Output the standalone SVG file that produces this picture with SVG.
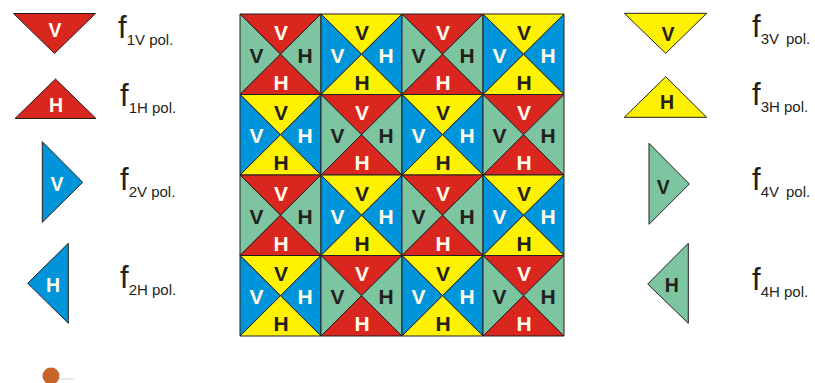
<svg xmlns="http://www.w3.org/2000/svg" width="815" height="383" viewBox="0 0 815 383">
<style>
.r{fill:#D9261E}.y{fill:#FFF200}.b{fill:#0095DA}.g{fill:#7DC4A0}
polygon{stroke:#231F20;stroke-width:1;stroke-linejoin:miter}
.t{font-family:"Liberation Sans",Arial,sans-serif;font-weight:bold;font-size:21px;text-anchor:middle}
.lt{font-family:"Liberation Sans",Arial,sans-serif;font-weight:bold;font-size:19.5px;text-anchor:middle}
.w{fill:#FFFBEA}.k{fill:#231F20}
.lab{font-family:"Liberation Sans",Arial,sans-serif;font-size:31px;fill:#231F20}
.sub{font-size:15px}
</style>
<rect width="815" height="383" fill="#FFFFFF"/>
<g id="grid">
<g id="cell-r0c0" transform="translate(240,14)"><polygon class="r" points="0,0 81,0 40.5,40.25"/><polygon class="g" points="0,0 0,80.5 40.5,40.25"/><polygon class="g" points="81,0 81,80.5 40.5,40.25"/><polygon class="r" points="0,80.5 81,80.5 40.5,40.25"/><text class="t w" x="41" y="25.5">V</text><text class="t k" x="16.5" y="48.5">V</text><text class="t k" x="65" y="48.5">H</text><text class="t w" x="41" y="75.5">H</text></g>
<g id="cell-r0c1" transform="translate(321,14)"><polygon class="y" points="0,0 81,0 40.5,40.25"/><polygon class="b" points="0,0 0,80.5 40.5,40.25"/><polygon class="b" points="81,0 81,80.5 40.5,40.25"/><polygon class="y" points="0,80.5 81,80.5 40.5,40.25"/><text class="t k" x="41" y="25.5">V</text><text class="t w" x="16.5" y="48.5">V</text><text class="t w" x="65" y="48.5">H</text><text class="t k" x="41" y="75.5">H</text></g>
<g id="cell-r0c2" transform="translate(402,14)"><polygon class="r" points="0,0 81,0 40.5,40.25"/><polygon class="g" points="0,0 0,80.5 40.5,40.25"/><polygon class="g" points="81,0 81,80.5 40.5,40.25"/><polygon class="r" points="0,80.5 81,80.5 40.5,40.25"/><text class="t w" x="41" y="25.5">V</text><text class="t k" x="16.5" y="48.5">V</text><text class="t k" x="65" y="48.5">H</text><text class="t w" x="41" y="75.5">H</text></g>
<g id="cell-r0c3" transform="translate(483,14)"><polygon class="y" points="0,0 81,0 40.5,40.25"/><polygon class="b" points="0,0 0,80.5 40.5,40.25"/><polygon class="b" points="81,0 81,80.5 40.5,40.25"/><polygon class="y" points="0,80.5 81,80.5 40.5,40.25"/><text class="t k" x="41" y="25.5">V</text><text class="t w" x="16.5" y="48.5">V</text><text class="t w" x="65" y="48.5">H</text><text class="t k" x="41" y="75.5">H</text></g>
<g id="cell-r1c0" transform="translate(240,94.5)"><polygon class="y" points="0,0 81,0 40.5,40.25"/><polygon class="b" points="0,0 0,80.5 40.5,40.25"/><polygon class="b" points="81,0 81,80.5 40.5,40.25"/><polygon class="y" points="0,80.5 81,80.5 40.5,40.25"/><text class="t k" x="41" y="25.5">V</text><text class="t w" x="16.5" y="48.5">V</text><text class="t w" x="65" y="48.5">H</text><text class="t k" x="41" y="75.5">H</text></g>
<g id="cell-r1c1" transform="translate(321,94.5)"><polygon class="r" points="0,0 81,0 40.5,40.25"/><polygon class="g" points="0,0 0,80.5 40.5,40.25"/><polygon class="g" points="81,0 81,80.5 40.5,40.25"/><polygon class="r" points="0,80.5 81,80.5 40.5,40.25"/><text class="t w" x="41" y="25.5">V</text><text class="t k" x="16.5" y="48.5">V</text><text class="t k" x="65" y="48.5">H</text><text class="t w" x="41" y="75.5">H</text></g>
<g id="cell-r1c2" transform="translate(402,94.5)"><polygon class="y" points="0,0 81,0 40.5,40.25"/><polygon class="b" points="0,0 0,80.5 40.5,40.25"/><polygon class="b" points="81,0 81,80.5 40.5,40.25"/><polygon class="y" points="0,80.5 81,80.5 40.5,40.25"/><text class="t k" x="41" y="25.5">V</text><text class="t w" x="16.5" y="48.5">V</text><text class="t w" x="65" y="48.5">H</text><text class="t k" x="41" y="75.5">H</text></g>
<g id="cell-r1c3" transform="translate(483,94.5)"><polygon class="r" points="0,0 81,0 40.5,40.25"/><polygon class="g" points="0,0 0,80.5 40.5,40.25"/><polygon class="g" points="81,0 81,80.5 40.5,40.25"/><polygon class="r" points="0,80.5 81,80.5 40.5,40.25"/><text class="t w" x="41" y="25.5">V</text><text class="t k" x="16.5" y="48.5">V</text><text class="t k" x="65" y="48.5">H</text><text class="t w" x="41" y="75.5">H</text></g>
<g id="cell-r2c0" transform="translate(240,175)"><polygon class="r" points="0,0 81,0 40.5,40.25"/><polygon class="g" points="0,0 0,80.5 40.5,40.25"/><polygon class="g" points="81,0 81,80.5 40.5,40.25"/><polygon class="r" points="0,80.5 81,80.5 40.5,40.25"/><text class="t w" x="41" y="25.5">V</text><text class="t k" x="16.5" y="48.5">V</text><text class="t k" x="65" y="48.5">H</text><text class="t w" x="41" y="75.5">H</text></g>
<g id="cell-r2c1" transform="translate(321,175)"><polygon class="y" points="0,0 81,0 40.5,40.25"/><polygon class="b" points="0,0 0,80.5 40.5,40.25"/><polygon class="b" points="81,0 81,80.5 40.5,40.25"/><polygon class="y" points="0,80.5 81,80.5 40.5,40.25"/><text class="t k" x="41" y="25.5">V</text><text class="t w" x="16.5" y="48.5">V</text><text class="t w" x="65" y="48.5">H</text><text class="t k" x="41" y="75.5">H</text></g>
<g id="cell-r2c2" transform="translate(402,175)"><polygon class="r" points="0,0 81,0 40.5,40.25"/><polygon class="g" points="0,0 0,80.5 40.5,40.25"/><polygon class="g" points="81,0 81,80.5 40.5,40.25"/><polygon class="r" points="0,80.5 81,80.5 40.5,40.25"/><text class="t w" x="41" y="25.5">V</text><text class="t k" x="16.5" y="48.5">V</text><text class="t k" x="65" y="48.5">H</text><text class="t w" x="41" y="75.5">H</text></g>
<g id="cell-r2c3" transform="translate(483,175)"><polygon class="y" points="0,0 81,0 40.5,40.25"/><polygon class="b" points="0,0 0,80.5 40.5,40.25"/><polygon class="b" points="81,0 81,80.5 40.5,40.25"/><polygon class="y" points="0,80.5 81,80.5 40.5,40.25"/><text class="t k" x="41" y="25.5">V</text><text class="t w" x="16.5" y="48.5">V</text><text class="t w" x="65" y="48.5">H</text><text class="t k" x="41" y="75.5">H</text></g>
<g id="cell-r3c0" transform="translate(240,255.5)"><polygon class="y" points="0,0 81,0 40.5,40.25"/><polygon class="b" points="0,0 0,80.5 40.5,40.25"/><polygon class="b" points="81,0 81,80.5 40.5,40.25"/><polygon class="y" points="0,80.5 81,80.5 40.5,40.25"/><text class="t k" x="41" y="25.5">V</text><text class="t w" x="16.5" y="48.5">V</text><text class="t w" x="65" y="48.5">H</text><text class="t k" x="41" y="75.5">H</text></g>
<g id="cell-r3c1" transform="translate(321,255.5)"><polygon class="r" points="0,0 81,0 40.5,40.25"/><polygon class="g" points="0,0 0,80.5 40.5,40.25"/><polygon class="g" points="81,0 81,80.5 40.5,40.25"/><polygon class="r" points="0,80.5 81,80.5 40.5,40.25"/><text class="t w" x="41" y="25.5">V</text><text class="t k" x="16.5" y="48.5">V</text><text class="t k" x="65" y="48.5">H</text><text class="t w" x="41" y="75.5">H</text></g>
<g id="cell-r3c2" transform="translate(402,255.5)"><polygon class="y" points="0,0 81,0 40.5,40.25"/><polygon class="b" points="0,0 0,80.5 40.5,40.25"/><polygon class="b" points="81,0 81,80.5 40.5,40.25"/><polygon class="y" points="0,80.5 81,80.5 40.5,40.25"/><text class="t k" x="41" y="25.5">V</text><text class="t w" x="16.5" y="48.5">V</text><text class="t w" x="65" y="48.5">H</text><text class="t k" x="41" y="75.5">H</text></g>
<g id="cell-r3c3" transform="translate(483,255.5)"><polygon class="r" points="0,0 81,0 40.5,40.25"/><polygon class="g" points="0,0 0,80.5 40.5,40.25"/><polygon class="g" points="81,0 81,80.5 40.5,40.25"/><polygon class="r" points="0,80.5 81,80.5 40.5,40.25"/><text class="t w" x="41" y="25.5">V</text><text class="t k" x="16.5" y="48.5">V</text><text class="t k" x="65" y="48.5">H</text><text class="t w" x="41" y="75.5">H</text></g>
</g>
<g id="connectors"></g>
<g id="legend-f1V"><polygon class="r" points="13.5,13.5 95.5,13.5 54.5,53.5"/><text class="lt w" x="55" y="37">V</text><text class="lab" x="118" y="38">f<tspan class="sub" dy="7">1V pol.</tspan></text></g>
<g id="legend-f1H"><polygon class="r" points="55.5,79 15,118.5 96,118.5"/><text class="lt w" x="56" y="112">H</text><text class="lab" x="120" y="106">f<tspan class="sub" dy="7">1H pol.</tspan></text></g>
<g id="legend-f2V"><polygon class="b" points="42.3,141.7 42.3,222.3 82.7,182.3"/><text class="lt w" x="57" y="190.5">V</text><text class="lab" x="120" y="190">f<tspan class="sub" dy="7">2V pol.</tspan></text></g>
<g id="legend-f2H"><polygon class="b" points="68.3,243.3 68.3,323.3 27.7,283.3"/><text class="lt w" x="53" y="292">H</text><text class="lab" x="120" y="288">f<tspan class="sub" dy="7">2H pol.</tspan></text></g>
<g id="legend-f3V"><polygon class="y" points="624.3,13.3 706.7,13.3 665.7,53.3"/><text class="lt k" x="668" y="40.5">V</text><text class="lab" x="752" y="37">f<tspan class="sub" dy="7">3V</tspan><tspan class="sub" dx="7">pol.</tspan></text></g>
<g id="legend-f3H"><polygon class="y" points="665.7,76.7 624.3,117.3 706.7,117.3"/><text class="lt k" x="667" y="108.5">H</text><text class="lab" x="752" y="105">f<tspan class="sub" dy="7">3H pol.</tspan></text></g>
<g id="legend-f4V"><polygon class="g" points="649,143.3 649,224.3 689.3,184"/><text class="lt k" x="663.3" y="193.5">V</text><text class="lab" x="752" y="190">f<tspan class="sub" dy="7">4V</tspan><tspan class="sub" dx="7">pol.</tspan></text></g>
<g id="legend-f4H"><polygon class="g" points="688.3,243.3 688.3,323.3 647.7,284"/><text class="lt k" x="671.7" y="292">H</text><text class="lab" x="752" y="290">f<tspan class="sub" dy="7">4H pol.</tspan></text></g>
<g id="logo"><circle cx="51" cy="376" r="8.5" fill="#C8642A"/><rect x="58" y="378.5" width="16" height="1" fill="#9FD4A8" opacity="0.6"/></g>
</svg>
